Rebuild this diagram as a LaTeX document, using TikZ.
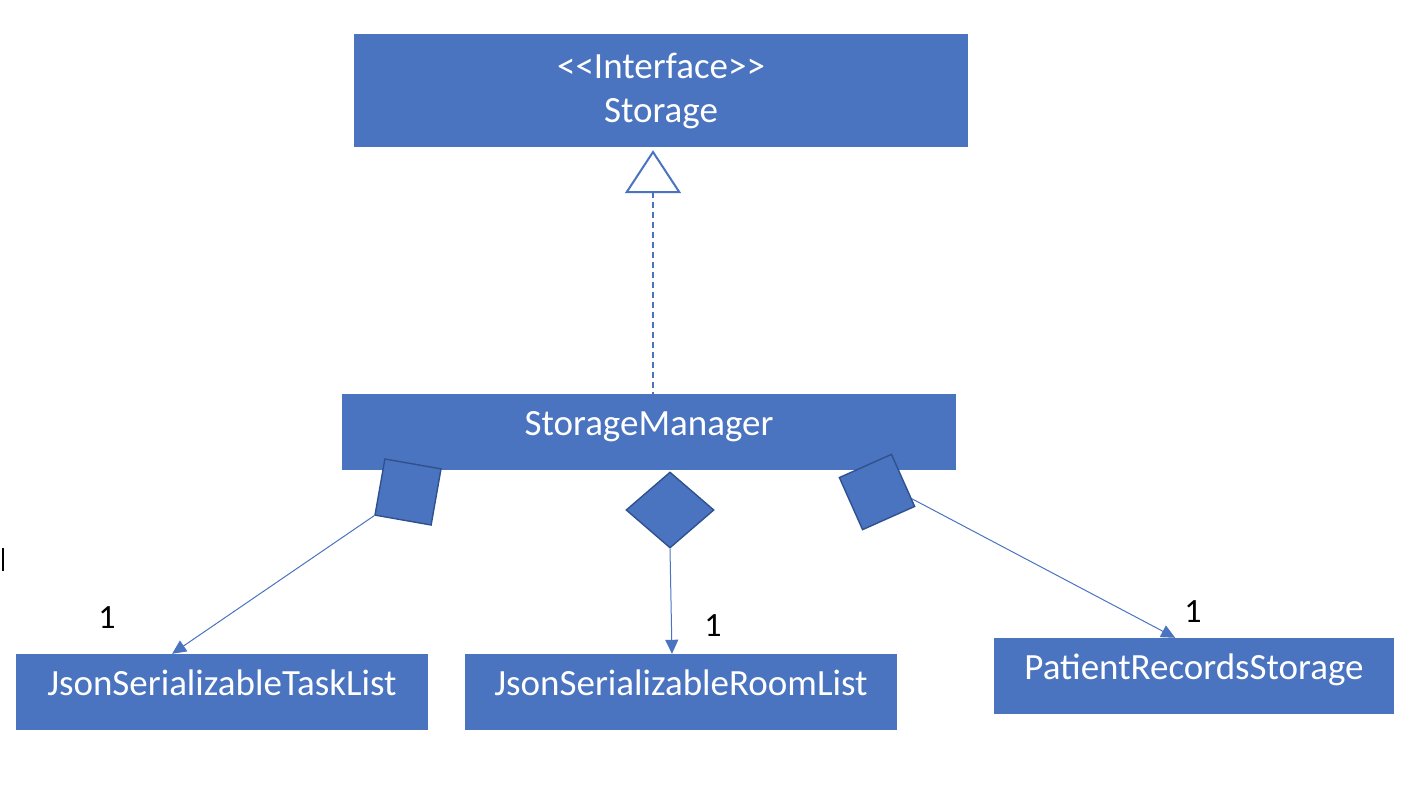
\documentclass[tikz,border=0pt]{standalone}
\usepackage{fontspec}
\setmainfont{Carlito}
\usetikzlibrary{arrows.meta,calc,shapes.geometric}
\definecolor{boxblue}{HTML}{4A73C0}
\definecolor{edgeblue}{HTML}{2F528F}
\begin{document}
\begin{tikzpicture}[x=1pt,y=-1pt,
  umlbox/.style={rectangle,fill=boxblue,draw=none,text=white,inner sep=0pt,
    font=\fontsize{37}{44}\selectfont,align=center},
  onelinebox/.style={umlbox,text height=26pt,text depth=19pt},
  aggsq/.style={rectangle,fill=boxblue,draw=edgeblue,line width=1.4pt,
    minimum size=57pt,inner sep=0pt},
  conn/.style={draw=boxblue,line width=1pt,-{Triangle[length=14pt,width=13pt]}},
  mult/.style={font=\fontsize{34}{40}\selectfont,text=black,inner sep=0pt}]
\useasboundingbox (0,0) rectangle (1420,810);
\node[umlbox,minimum width=614pt,minimum height=113pt] (storage) at (661,90.5) {<\kern0pt<Interface>\kern0pt>\\Storage};
\node[onelinebox,minimum width=614pt,minimum height=76pt] (sm) at (649,432) {StorageManager};
\node[onelinebox,minimum width=412pt,minimum height=76pt] (task) at (222,692) {JsonSerializableTaskList};
\node[onelinebox,minimum width=432pt,minimum height=76pt] (room) at (681,692) {JsonSerializableRoomList};
\node[onelinebox,minimum width=400pt,minimum height=76pt] (patient) at (1194,676) {PatientRecordsStorage};
\node[aggsq,rotate=-10] (ld) at (408,492) {};
\node[aggsq,rotate=24] (rd) at (877,492) {};
\node[diamond,fill=boxblue,draw=edgeblue,line width=1.4pt,minimum width=88pt,minimum height=76pt,inner sep=0pt] (cd) at (670,510) {};
% realization
\coordinate (dtop) at ($(sm.north)+(4,14)$);
\draw[boxblue,line width=1.2pt,dash pattern=on 6pt off 4pt,
  -{Triangle[open,length=43pt,width=56pt,line width=2pt]},shorten >=3pt] (dtop) -- (dtop |- storage.south);
% aggregations
\draw[conn] (ld.south west) -- ($(task.north west)!0.379!(task.north east)$);
\draw[conn] (cd.south) -- ($(cd.south |- room.north)+(2,0)$);
\draw[conn] ($(rd.north east)!0.85!(rd.south east)$) -- ($(patient.north west)!0.453!(patient.north east)$);
% multiplicities
\node[mult] (m1) at (107,618) {1};
\node[mult] (m2) at (713,626) {1};
\node[mult] (m3) at (1193,612) {1};
% text cursor mark
\draw[black,line width=2pt] (3,548) -- (3,571);
\end{tikzpicture}
\end{document}
